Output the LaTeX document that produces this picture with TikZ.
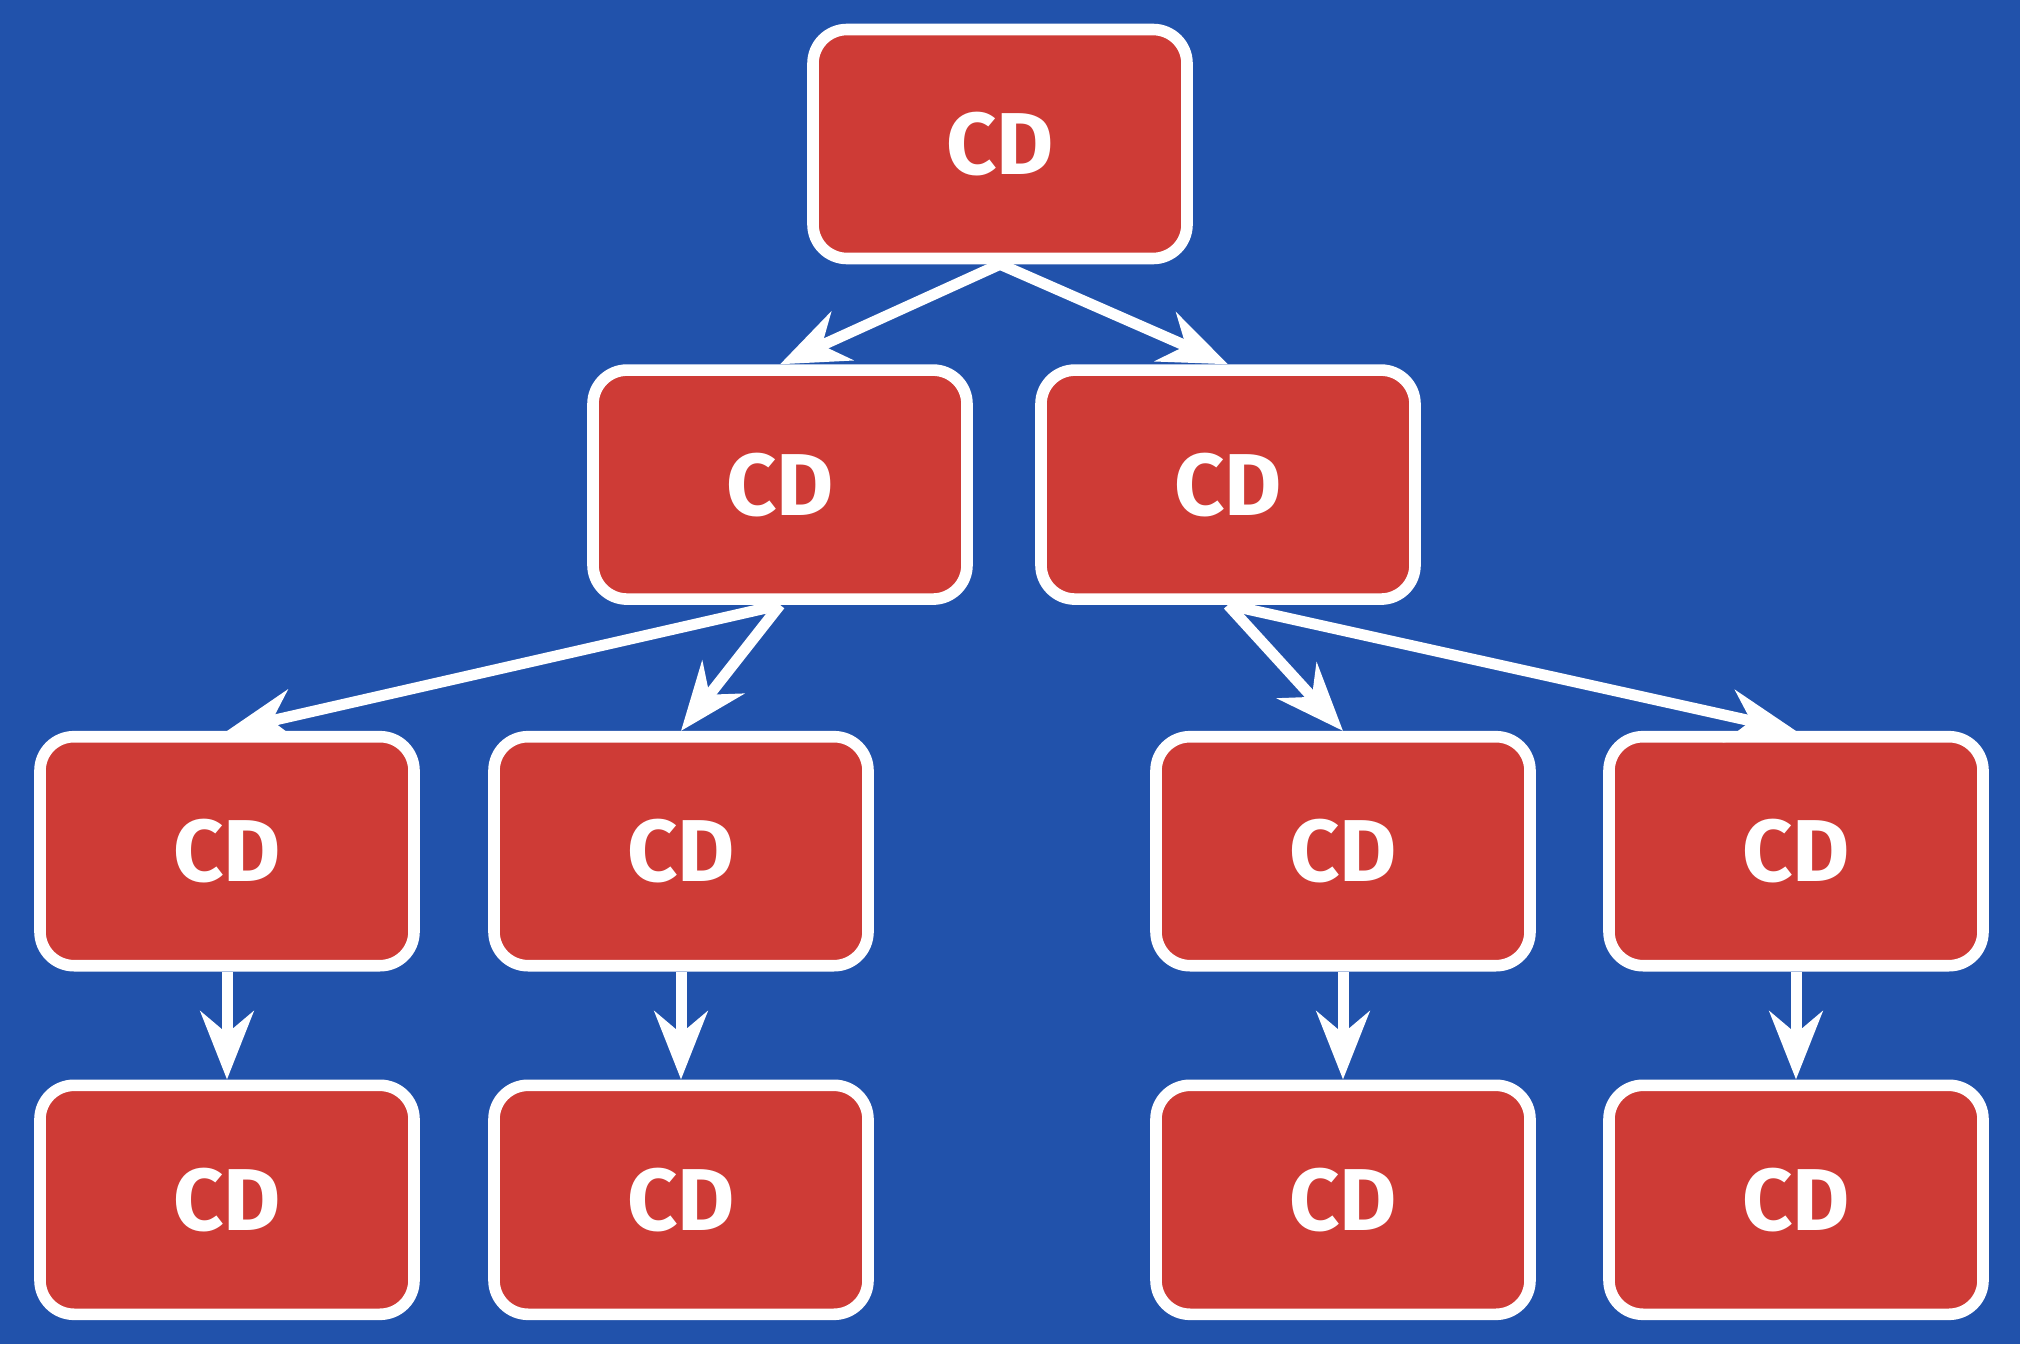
\documentclass[tikz,border=0pt]{standalone}
\usepackage{fontspec}
\setmainfont{Fira Sans}
\usepackage{xcolor}
\usepackage{tikz}
\usetikzlibrary{arrows.meta,positioning}
\definecolor{bgblue}{HTML}{2152AB}
\definecolor{boxred}{HTML}{CE3B36}

\begin{document}
\begin{tikzpicture}[
    node distance=10mm,
    cd/.style={draw=white, line width=1.16mm, fill=boxred, rounded corners=3.4mm, minimum width=3.74cm, minimum height=2.29cm, inner sep=0pt, text=white, font=\fontsize{25}{30}\selectfont\bfseries},
    link/.style={-{Stealth[length=6.8mm, width=5.3mm, inset=2.2mm]}, draw=white, line width=1.1mm}
  ]
    \fill[bgblue] (0,0) rectangle (20.2,13.44);

    \node[cd] (root) at (10.00,12.00) {CD};
    \node[cd, below=10mm of root, xshift=-22.0mm] (left) {CD};
    \node[cd, below=10mm of root, xshift=22.8mm] (right) {CD};
    \node[cd, below=12.6mm of left, xshift=-55.3mm] (leftA) {CD};
    \node[cd, below=12.6mm of left, xshift=-9.9mm] (leftB) {CD};
    \node[cd, below=12.6mm of right, xshift=11.5mm] (rightA) {CD};
    \node[cd, below=12.6mm of right, xshift=56.8mm] (rightB) {CD};
    \node[cd, below=10.8mm of leftA] (leafA) {CD};
    \node[cd, below=10.8mm of leftB] (leafB) {CD};
    \node[cd, below=10.8mm of rightA] (leafC) {CD};
    \node[cd, below=10.8mm of rightB] (leafD) {CD};

    \draw[link] (root.south) -- (left.north);
    \draw[link] (root.south) -- (right.north);
    \draw[link] (left.south) -- (leftA.north);
    \draw[link] (left.south) -- (leftB.north);
    \draw[link] (right.south) -- (rightA.north);
    \draw[link] (right.south) -- (rightB.north);
    \draw[link] (leftA.south) -- (leafA.north);
    \draw[link] (leftB.south) -- (leafB.north);
    \draw[link] (rightA.south) -- (leafC.north);
    \draw[link] (rightB.south) -- (leafD.north);
  \end{tikzpicture}
\end{document}
